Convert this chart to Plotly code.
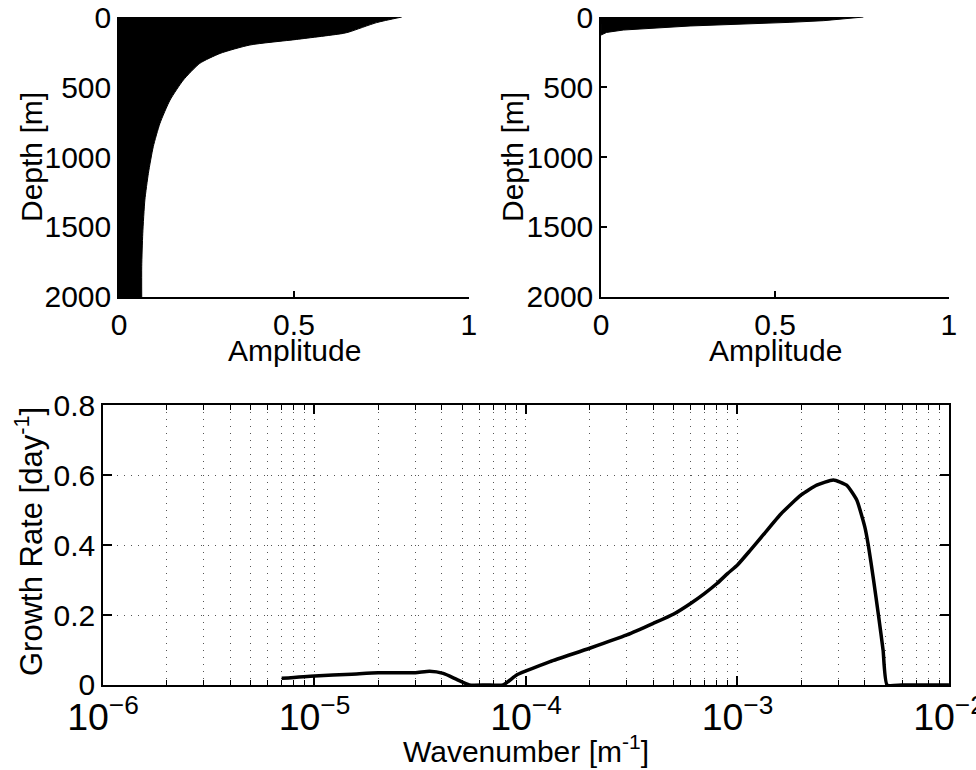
import plotly.graph_objects as go

# ---- Data ----
# Top-left panel: amplitude profile vs depth
depth_left = [0, 40, 105, 117, 160, 200, 260, 331, 450, 593, 760, 926, 1117, 1307, 1545, 1783, 2000]
amp_left = [0.808, 0.736, 0.66, 0.641, 0.508, 0.374, 0.289, 0.231, 0.184, 0.146, 0.117, 0.098,
            0.084, 0.074, 0.068, 0.065, 0.065]

# Top-right panel: amplitude profile vs depth
depth_right = [0, 26, 38, 64, 93, 110, 129]
amp_right = [0.754, 0.64, 0.543, 0.256, 0.064, 0.016, 0.0]

# Bottom panel: growth rate vs wavenumber
wavenumber = [7.0e-6, 1.0e-5, 1.5e-5, 2.0e-5, 3.0e-5, 3.5e-5, 4.06e-5, 4.7e-5, 5.4e-5, 6.5e-5, 7.8e-5,
              9.0e-5, 1.0e-4, 1.3e-4, 2.0e-4, 3.0e-4, 4.0e-4, 5.0e-4, 6.0e-4, 7.0e-4, 8.0e-4,
              9.0e-4, 1.0e-3, 1.146e-3, 1.32e-3, 1.6e-3, 2.0e-3, 2.37e-3, 2.84e-3, 3.28e-3, 3.66e-3,
              4.0e-3, 4.16e-3, 4.4e-3, 4.64e-3, 4.88e-3, 5.1e-3, 6.0e-3, 8.0e-3, 1.0e-2]
growth = [0.019, 0.026, 0.031, 0.035, 0.035, 0.039, 0.033, 0.016, 0.0, 0.0, 0.0,
          0.028, 0.040, 0.067, 0.105, 0.143, 0.176, 0.203, 0.233, 0.262, 0.290,
          0.319, 0.343, 0.384, 0.428, 0.488, 0.543, 0.571, 0.586, 0.571, 0.529,
          0.452, 0.398, 0.30, 0.20, 0.10, 0.0, 0.0, 0.0, 0.0]

amp_ticks = [0, 0.5, 1]
amp_labels = ["0", "0.5", "1"]
depth_ticks = [0, 500, 1000, 1500, 2000]
growth_ticks = [0, 0.2, 0.4, 0.6, 0.8]
growth_labels = ["0", "0.2", "0.4", "0.6", "0.8"]

FONT = "Liberation Sans, Arial, Helvetica, sans-serif"
FS = 30
W, H = 976, 770

fig = go.Figure()

fig.add_trace(go.Scatter(x=amp_left, y=depth_left, mode="lines", fill="tozerox",
                         fillcolor="black", line=dict(color="black", width=1, shape="spline", smoothing=0.6),
                         xaxis="x", yaxis="y", showlegend=False))
fig.add_trace(go.Scatter(x=amp_right, y=depth_right, mode="lines", fill="tozerox",
                         fillcolor="black", line=dict(color="black", width=1),
                         xaxis="x2", yaxis="y2", showlegend=False))
fig.add_trace(go.Scatter(x=wavenumber, y=growth, mode="lines",
                         line=dict(color="black", width=3.5, shape="spline", smoothing=0.5),
                         xaxis="x3", yaxis="y3", showlegend=False))

common = dict(showline=True, linecolor="black", linewidth=1.5, ticks="inside", tickcolor="black",
              tickwidth=1.5, zeroline=False, showgrid=False, automargin=False,
              ticklabeloverflow="allow",
              tickfont=dict(family=FONT, size=FS, color="black"))
gridc = "#555555"
dash = "1px,6px"


def ann(text, px, py, angle=0, size=FS):
    return dict(text=text, x=px / W, y=1 - py / H, xref="paper", yref="paper",
                xanchor="center", yanchor="middle", showarrow=False, textangle=angle,
                font=dict(family=FONT, size=size, color="black"))


fig.update_layout(
    width=W, height=H,
    margin=dict(l=0, r=0, t=0, b=0),
    paper_bgcolor="white", plot_bgcolor="white",
    font=dict(family=FONT, size=FS, color="black"),
    xaxis=dict(common, domain=[0.1219, 0.4805], range=[0, 1], tickvals=amp_ticks, ticktext=amp_labels,
               ticklen=6, anchor="y"),
    yaxis=dict(common, domain=[0.6143, 0.9779], range=[2000, 0], tickvals=depth_ticks, ticklen=6, anchor="x"),
    xaxis2=dict(common, domain=[0.6158, 0.9723], range=[0, 1], tickvals=amp_ticks, ticktext=amp_labels,
                ticklen=6, anchor="y2"),
    yaxis2=dict(common, domain=[0.6143, 0.9779], range=[2000, 0], tickvals=depth_ticks, ticklen=6, anchor="x2"),
    xaxis3=dict(common, domain=[0.1055, 0.9723], type="log", range=[-6, -2], dtick=1,
                exponentformat="power", showexponent="all", ticklen=9, mirror="allticks", anchor="y3",
                showgrid=True, gridcolor=gridc, gridwidth=1, griddash=dash,
                minor=dict(ticks="inside", ticklen=5, tickcolor="black", tickwidth=1,
                           showgrid=True, gridcolor=gridc, gridwidth=1, griddash=dash)),
    yaxis3=dict(common, domain=[0.1104, 0.474], range=[0, 0.8], tickvals=growth_ticks,
                ticktext=growth_labels, ticklen=9, mirror="allticks", anchor="x3",
                showgrid=True, gridcolor=gridc, gridwidth=1, griddash=dash),
    annotations=[
        ann("Amplitude", 294, 350),
        ann("Amplitude", 775, 350),
        ann("Depth [m]", 31, 157, -90),
        ann("Depth [m]", 512, 157, -90),
        ann("Growth Rate [day<sup>-1</sup>]", 29, 542, -90, 31),
        ann("Wavenumber [m<sup>-1</sup>]", 526, 749),
    ],
)

fig.write_html("out.html", config={"displayModeBar": False},
               post_script="document.body.style.margin='0';document.body.style.overflow='hidden';")
